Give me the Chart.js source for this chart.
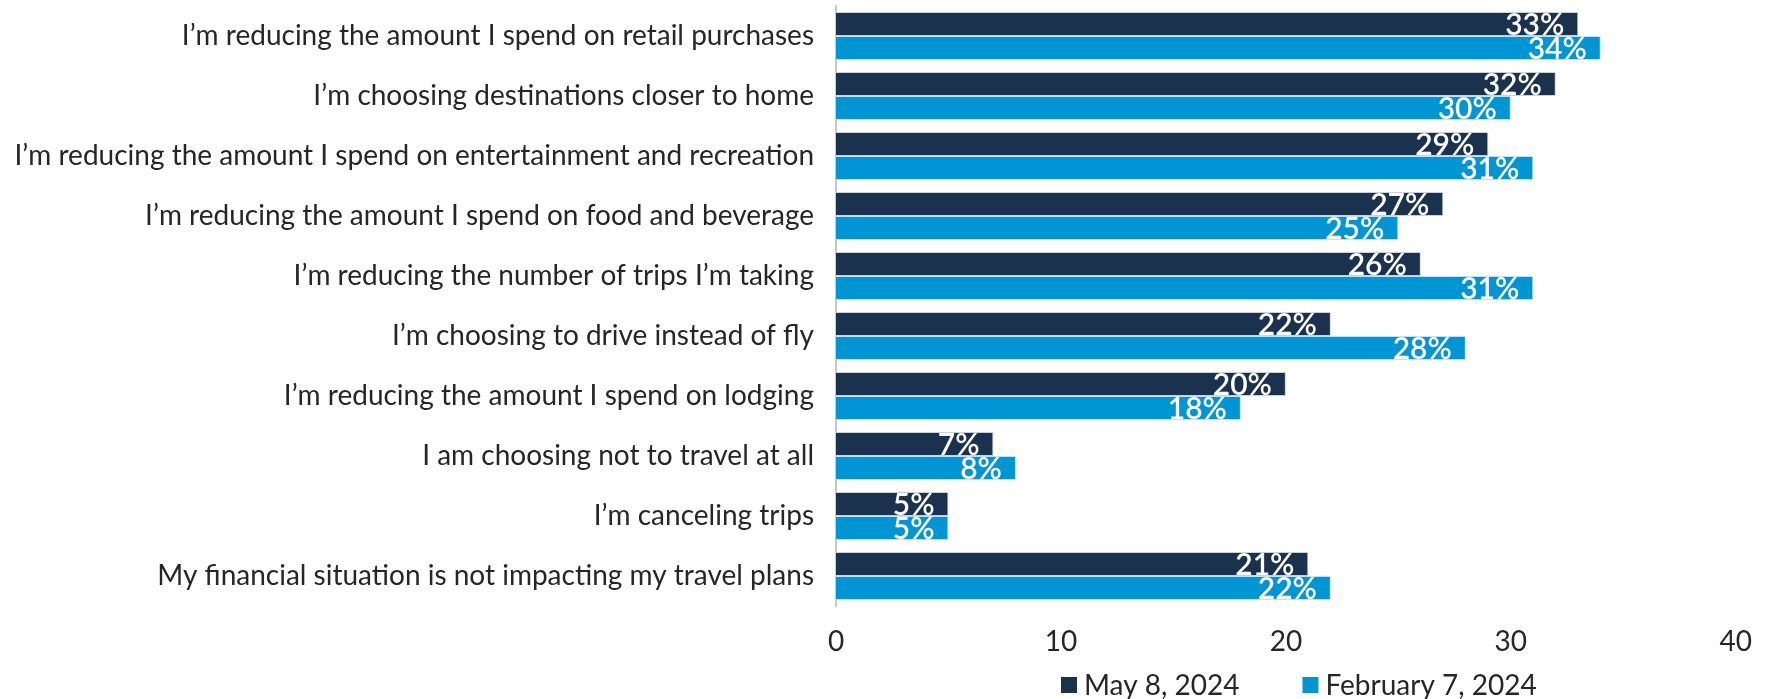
<!DOCTYPE html>
<html>
<head>
<meta charset="utf-8">
<script src="https://cdn.jsdelivr.net/npm/chart.js@4.4.1/dist/chart.umd.min.js"></script>
<style>
  html, body { margin: 0; padding: 0; background: #fff; }
  #wrap { width: 1771px; height: 699px; position: relative; }
</style>
</head>
<body>
<div id="wrap"><canvas id="myChart" width="1771" height="699"></canvas></div>
<script>
// survey answers, top to bottom
const categories = [
    "I\u2019m reducing the amount I spend on retail purchases",
    "I\u2019m choosing destinations closer to home",
    "I\u2019m reducing the amount I spend on entertainment and recreation",
    "I\u2019m reducing the amount I spend on food and beverage",
    "I\u2019m reducing the number of trips I\u2019m taking",
    "I\u2019m choosing to drive instead of fly",
    "I\u2019m reducing the amount I spend on lodging",
    "I am choosing not to travel at all",
    "I\u2019m canceling trips",
    "My financial situation is not impacting my travel plans"
];
const may2024 = [33, 32, 29, 27, 26, 22, 20, 7, 5, 21];
const feb2024 = [34, 30, 31, 25, 31, 28, 18, 8, 5, 22];
const xTicks = [0, 10, 20, 30, 40];

const FONT = "Lato, 'Noto Sans', sans-serif";
const TEXT = "#262626";

// white percent labels just inside the bar ends
const barLabels = {
    id: "barLabels",
    afterDatasetsDraw(chart) {
        const ctx = chart.ctx;
        ctx.save();
        ctx.font = "600 30px " + FONT;
        ctx.fillStyle = "#ffffff";
        ctx.textAlign = "right";
        ctx.textBaseline = "middle";
        chart.data.datasets.forEach((ds, i) => {
            chart.getDatasetMeta(i).data.forEach((bar, j) => {
                ctx.fillText(ds.data[j] + "%", bar.x - 14, bar.y + 1);
            });
        });
        ctx.restore();
    }
};

// legend row under the x axis, centred on the plot area
const bottomLegend = {
    id: "bottomLegend",
    afterDraw(chart) {
        const ctx = chart.ctx;
        const area = chart.chartArea;
        const box = 16, gapText = 7, gapItem = 63;
        ctx.save();
        ctx.font = "28px " + FONT;
        ctx.textBaseline = "middle";
        const items = chart.data.datasets.map(ds => ({
            text: ds.label, color: ds.backgroundColor, w: ctx.measureText(ds.label).width
        }));
        let total = 0;
        items.forEach((it, k) => { total += box + gapText + it.w + (k ? gapItem : 0); });
        let x = (area.left + area.right) / 2 + 13 - total / 2;
        const y = chart.height - 14;
        items.forEach(it => {
            ctx.fillStyle = it.color;
            ctx.fillRect(x, y - box / 2, box, box);
            x += box + gapText;
            ctx.fillStyle = TEXT;
            ctx.fillText(it.text, x, y + 1);
            x += it.w + gapItem;
        });
        ctx.restore();
    }
};

const ctx = document.getElementById("myChart").getContext("2d");
new Chart(ctx, {
    type: "bar",
    data: {
        labels: categories,
        datasets: [
            {
                label: "May 8, 2024",
                data: may2024,
                backgroundColor: "#1b324e",
                borderColor: "#c9d0d8",
                borderWidth: 1,
                categoryPercentage: 0.8,
                barPercentage: 1.0
            },
            {
                label: "February 7, 2024",
                data: feb2024,
                backgroundColor: "#0096d6",
                borderColor: "#bfe3f5",
                borderWidth: 1,
                categoryPercentage: 0.8,
                barPercentage: 1.0
            }
        ]
    },
    options: {
        indexAxis: "y",
        responsive: false,
        animation: false,
        layout: {padding: {top: 6, right: 27, left: 0, bottom: 38}},
        scales: {
            x: {
                min: 0,
                max: 40,
                grid: {display: false, drawTicks: false},
                border: {display: false},
                afterBuildTicks: (s) => { s.ticks = xTicks.map(v => ({value: v})); },
                afterFit: (s) => { s.height = 55; },
                ticks: {
                    padding: 19,
                    color: TEXT,
                    font: {family: FONT, size: 28}
                }
            },
            y: {
                grid: {display: false, drawTicks: false},
                border: {display: true, color: "#c8c8c8", width: 2},
                afterFit: (s) => {
                    s.width = 836;
                    // labels sit inside the category bands, no extra room needed
                    s.paddingTop = 0;
                    s.paddingBottom = 0;
                },
                ticks: {
                    padding: 22,
                    color: TEXT,
                    font: {family: FONT, size: 28}
                }
            }
        },
        plugins: {
            legend: {display: false},
            tooltip: {enabled: false}
        }
    },
    plugins: [barLabels, bottomLegend]
});
</script>
</body>
</html>
